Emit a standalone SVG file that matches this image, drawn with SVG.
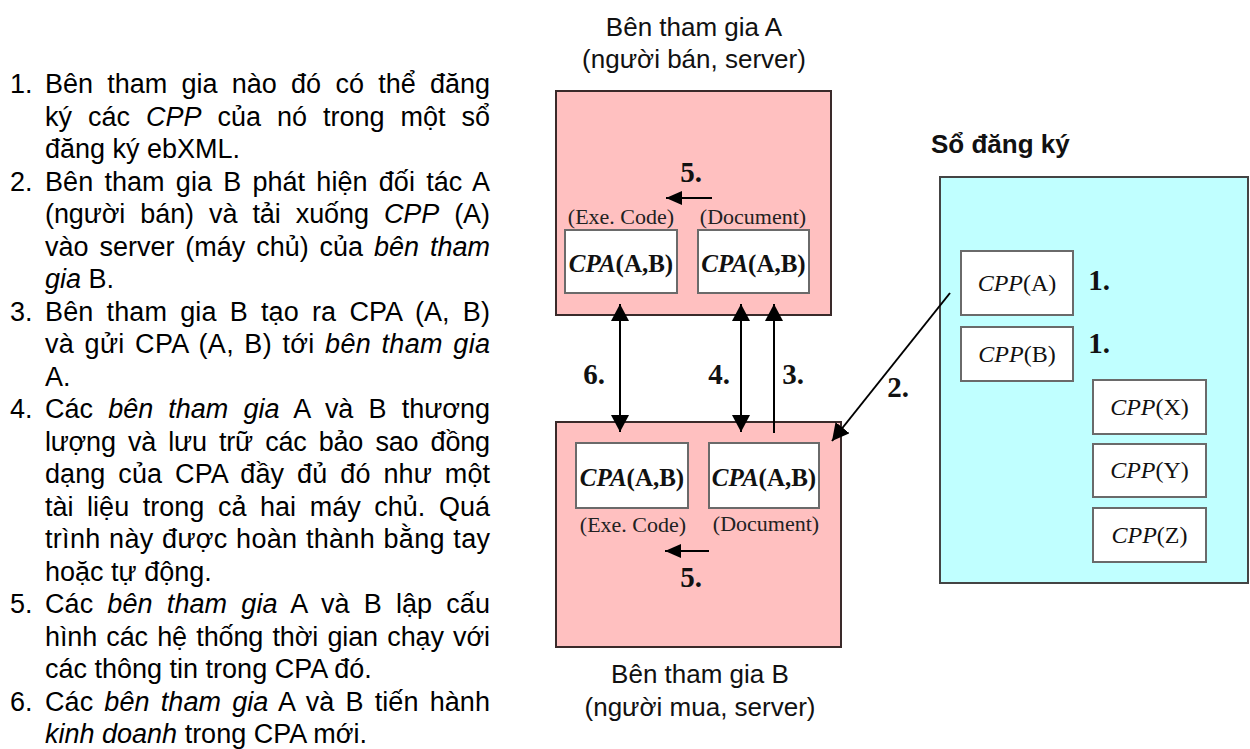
<svg xmlns="http://www.w3.org/2000/svg" width="1250" height="749" viewBox="0 0 1250 749">
  <style>
    .body { font-family: "Liberation Sans", Arial, sans-serif; font-size: 27px; fill: #000; }
    .it { font-style: italic; }
    .lbl { font-family: "Liberation Sans", Arial, sans-serif; font-size: 26px; fill: #111; text-anchor: middle; }
    .ttl { font-family: "Liberation Sans", Arial, sans-serif; font-size: 26px; font-weight: bold; fill: #111; }
    .host { fill: #ffc0c0; stroke: #3a2a2a; stroke-width: 2; }
    .reg { fill: #c0ffff; stroke: #444; stroke-width: 2; }
    .doc { fill: #fff; stroke: #6a6a6a; stroke-width: 2; }
    .cpa { font-family: "Liberation Serif", "Times New Roman", serif; font-size: 25px; font-weight: bold; text-anchor: middle; fill: #111; }
    .cpp { font-family: "Liberation Serif", "Times New Roman", serif; font-size: 24px; text-anchor: middle; fill: #111; }
    .sub { font-family: "Liberation Serif", "Times New Roman", serif; font-size: 22px; text-anchor: middle; fill: #222; }
    .num { font-family: "Liberation Serif", "Times New Roman", serif; font-size: 29px; font-weight: bold; text-anchor: middle; fill: #111; }
    .wire { stroke: #000; stroke-width: 2; fill: none; }
  </style>
  <defs>
    <marker id="head" viewBox="0 0 17 18" refX="17" refY="9" markerWidth="17" markerHeight="18" markerUnits="userSpaceOnUse" orient="auto-start-reverse">
      <path d="M0,0 L17,9 L0,18 z" fill="#000"/>
    </marker>
    <marker id="headSm" viewBox="0 0 16 14" refX="16" refY="7" markerWidth="16" markerHeight="14" markerUnits="userSpaceOnUse" orient="auto">
      <path d="M0,0 L16,7 L0,14 z" fill="#000"/>
    </marker>
  </defs>

  <!-- numbered steps (justified column, 45..490) -->
  <g id="steps" class="body">
    <text x="10" y="93">1.</text>
    <text x="45" y="93" word-spacing="6.8" textLength="445" lengthAdjust="spacing">Bên tham gia nào đó có thể đăng</text>
    <text x="45" y="125.5" word-spacing="8.5" textLength="445" lengthAdjust="spacing">ký các <tspan class="it">CPP</tspan> của nó trong một sổ</text>
    <text x="45" y="158">đăng ký ebXML.</text>

    <text x="10" y="190.5">2.</text>
    <text x="45" y="190.5" word-spacing="3.6" textLength="445" lengthAdjust="spacing">Bên tham gia B phát hiện đối tác A</text>
    <text x="45" y="223" word-spacing="7.7" textLength="445" lengthAdjust="spacing">(người bán) và tải xuống <tspan class="it">CPP</tspan> (A)</text>
    <text x="45" y="255.5" word-spacing="3.4" textLength="445" lengthAdjust="spacing">vào server (máy chủ) của <tspan class="it">bên tham</tspan></text>
    <text x="45" y="288"><tspan class="it">gia</tspan> B.</text>

    <text x="10" y="320.5">3.</text>
    <text x="45" y="320.5" word-spacing="5.5" textLength="445" lengthAdjust="spacing">Bên tham gia B tạo ra CPA (A, B)</text>
    <text x="45" y="353" word-spacing="2.5" textLength="445" lengthAdjust="spacing">và gửi CPA (A, B) tới <tspan class="it">bên tham gia</tspan></text>
    <text x="45" y="385.5">A.</text>

    <text x="10" y="418">4.</text>
    <text x="45" y="418" word-spacing="7.7" textLength="445" lengthAdjust="spacing">Các <tspan class="it">bên tham gia</tspan> A và B thương</text>
    <text x="45" y="450.5" word-spacing="5" textLength="445" lengthAdjust="spacing">lượng và lưu trữ các bảo sao đồng</text>
    <text x="45" y="483" word-spacing="5.5" textLength="445" lengthAdjust="spacing">dạng của CPA đầy đủ đó như một</text>
    <text x="45" y="515.5" word-spacing="6.1" textLength="445" lengthAdjust="spacing">tài liệu trong cả hai máy chủ. Quá</text>
    <text x="45" y="548" word-spacing="0.7" textLength="445" lengthAdjust="spacing">trình này được hoàn thành bằng tay</text>
    <text x="45" y="580.5">hoặc tự động.</text>

    <text x="10" y="613">5.</text>
    <text x="45" y="613" word-spacing="6.5" textLength="445" lengthAdjust="spacing">Các <tspan class="it">bên tham gia</tspan> A và B lập cấu</text>
    <text x="45" y="645.5" word-spacing="1.9" textLength="445" lengthAdjust="spacing">hình các hệ thống thời gian chạy với</text>
    <text x="45" y="678">các thông tin trong CPA đó.</text>

    <text x="10" y="710.5">6.</text>
    <text x="45" y="710.5" word-spacing="3.5" textLength="445" lengthAdjust="spacing">Các <tspan class="it">bên tham gia</tspan> A và B tiến hành</text>
    <text x="45" y="743"><tspan class="it">kinh doanh</tspan> trong CPA mới.</text>
  </g>

  <!-- party A server -->
  <g id="partyA">
    <text class="lbl" x="694" y="36">Bên tham gia A</text>
    <text class="lbl" x="694" y="68">(người bán, server)</text>
    <rect class="host" x="556" y="91" width="275" height="224"/>
    <text class="sub" x="621" y="224">(Exe. Code)</text>
    <text class="sub" x="753" y="224">(Document)</text>
    <rect class="doc" x="565" y="230" width="112" height="63"/>
    <text class="cpa" x="621" y="272"><tspan font-style="italic">CPA</tspan>(A,B)</text>
    <rect class="doc" x="698" y="230" width="111" height="63"/>
    <text class="cpa" x="753.5" y="272"><tspan font-style="italic">CPA</tspan>(A,B)</text>
  </g>

  <!-- party B server -->
  <g id="partyB">
    <rect class="host" x="556" y="422" width="285" height="225"/>
    <rect class="doc" x="576" y="443" width="112" height="65"/>
    <text class="cpa" x="632" y="486"><tspan font-style="italic">CPA</tspan>(A,B)</text>
    <rect class="doc" x="709" y="443" width="110" height="65"/>
    <text class="cpa" x="764" y="486"><tspan font-style="italic">CPA</tspan>(A,B)</text>
    <text class="sub" x="633" y="532">(Exe. Code)</text>
    <text class="sub" x="766" y="531">(Document)</text>
    <text class="lbl" x="700" y="683">Bên tham gia B</text>
    <text class="lbl" x="700" y="716">(người mua, server)</text>
  </g>

  <!-- registry -->
  <g id="registry">
    <text class="ttl" x="931" y="153">Sổ đăng ký</text>
    <rect class="reg" x="940" y="177" width="308" height="406"/>
    <rect class="doc" x="961" y="251" width="112" height="64"/>
    <text class="cpp" x="1017" y="291"><tspan font-style="italic">CPP</tspan>(A)</text>
    <text class="num" x="1099" y="290">1.</text>
    <rect class="doc" x="961" y="327" width="112" height="54"/>
    <text class="cpp" x="1017" y="362"><tspan font-style="italic">CPP</tspan>(B)</text>
    <text class="num" x="1099" y="353">1.</text>
    <rect class="doc" x="1093" y="380" width="113" height="54"/>
    <text class="cpp" x="1149.5" y="415"><tspan font-style="italic">CPP</tspan>(X)</text>
    <rect class="doc" x="1093" y="444" width="113" height="53"/>
    <text class="cpp" x="1149.5" y="478"><tspan font-style="italic">CPP</tspan>(Y)</text>
    <rect class="doc" x="1093" y="508" width="113" height="54"/>
    <text class="cpp" x="1149.5" y="543"><tspan font-style="italic">CPP</tspan>(Z)</text>
  </g>

  <!-- connectors -->
  <g id="connectors">
    <line class="wire" x1="620" y1="304" x2="620" y2="432" marker-start="url(#head)" marker-end="url(#head)"/>
    <text class="num" x="594" y="384">6.</text>
    <line class="wire" x1="741" y1="304" x2="741" y2="432" marker-start="url(#head)" marker-end="url(#head)"/>
    <text class="num" x="719" y="384">4.</text>
    <line class="wire" x1="774" y1="433" x2="774" y2="304" marker-end="url(#head)"/>
    <text class="num" x="793" y="384">3.</text>
    <line class="wire" x1="950" y1="293" x2="832" y2="441" marker-end="url(#head)"/>
    <text class="num" x="898" y="397">2.</text>
    <line class="wire" x1="712" y1="198" x2="666" y2="198" marker-end="url(#headSm)"/>
    <text class="num" x="691" y="182">5.</text>
    <line class="wire" x1="709" y1="551" x2="665" y2="551" marker-end="url(#headSm)"/>
    <text class="num" x="691" y="587">5.</text>
  </g>
</svg>
